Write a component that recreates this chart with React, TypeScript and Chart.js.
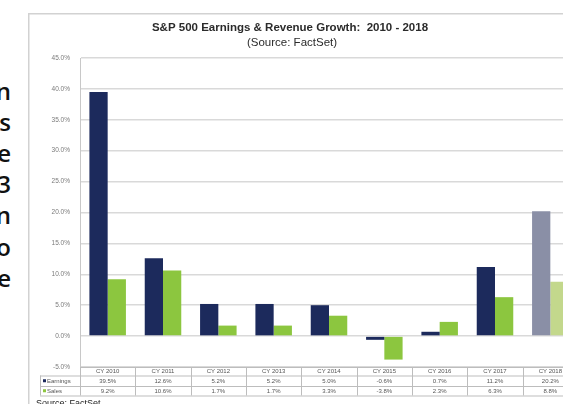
import React, { useEffect, useRef } from "react";
import { Chart, registerables } from "chart.js";

Chart.register(...registerables);

// ---- data ----
const categories = ["CY 2010", "CY 2011", "CY 2012", "CY 2013", "CY 2014", "CY 2015", "CY 2016", "CY 2017", "CY 2018"];
const earnings = [39.5, 12.6, 5.2, 5.2, 5.0, -0.6, 0.7, 11.2, 20.2];
const sales = [9.2, 10.6, 1.7, 1.7, 3.3, -3.8, 2.3, 6.3, 8.8];
const estimated = [false, false, false, false, false, false, false, false, true];
const seriesNames = ["Earnings", "Sales"];
const yMin = -5;
const yMax = 45;
const yStep = 5;
const titleText = "S&P 500 Earnings & Revenue Growth:  2010 - 2018";
const subtitleText = "(Source: FactSet)";
const sourceNote = "Source: FactSet";
const sideLetters = ["n", "s", "e", "3", "n", "o", "e"];

// ---- styles ----
const FONT = "'Liberation Sans', Arial, sans-serif";
const NAVY = "#1c2a5c";
const GREEN = "#8cc63f";
const NAVY_EST = "#8a8fa6";
const GREEN_EST = "#c3d88c";
const seriesColors = [NAVY, GREEN];

const fmt = (v: number) => v.toFixed(1) + "%";

const decorPlugin = {
  id: "decor",
  afterDraw(chart: any) {
    const ctx: CanvasRenderingContext2D = chart.ctx;
    const area = chart.chartArea;
    const W = chart.width;
    ctx.save();

    // frame (top & left)
    ctx.strokeStyle = "#d2d2d2";
    ctx.lineWidth = 1.5;
    ctx.beginPath();
    ctx.moveTo(0.75, chart.height);
    ctx.lineTo(0.75, 0.75);
    ctx.lineTo(W, 0.75);
    ctx.stroke();

    // title
    ctx.fillStyle = "#2b2b2b";
    ctx.textAlign = "center";
    ctx.textBaseline = "middle";
    ctx.font = `bold 11.5px ${FONT}`;
    ctx.fillText(titleText, 262, 15);
    ctx.font = `11.5px ${FONT}`;
    ctx.fillText(subtitleText, 264, 30);

    // data table
    const n = categories.length;
    const colW = (area.right - area.left) / n;
    const top = area.bottom;
    const r1 = top + 8.5;
    const r2 = r1 + 10.5;
    const r3 = r2 + 9.5;
    const labelLeft = 12;
    ctx.strokeStyle = "#bdbdbd";
    ctx.lineWidth = 1;
    ctx.beginPath();
    ctx.moveTo(area.left, top + 0.5);
    ctx.lineTo(W, top + 0.5);
    for (const y of [r1, r2, r3]) {
      ctx.moveTo(labelLeft, y + 0.5);
      ctx.lineTo(W, y + 0.5);
    }
    ctx.moveTo(labelLeft + 0.5, r1);
    ctx.lineTo(labelLeft + 0.5, r3);
    for (let i = 0; i <= n; i++) {
      const x = Math.round(area.left + i * colW) + 0.5;
      ctx.moveTo(x, top);
      ctx.lineTo(x, r3);
    }
    ctx.stroke();

    ctx.font = `6px ${FONT}`;
    ctx.fillStyle = "#555";
    ctx.textAlign = "center";
    for (let i = 0; i < n; i++) {
      const cx = chart.scales.x.getPixelForValue(i);
      ctx.fillText(categories[i], cx, (top + r1) / 2 + 0.5);
      ctx.fillText(fmt(earnings[i]), cx, (r1 + r2) / 2 + 0.5);
      ctx.fillText(fmt(sales[i]), cx, (r2 + r3) / 2 + 0.5);
    }
    // row labels with legend keys
    ctx.textAlign = "left";
    const rows = [(r1 + r2) / 2, (r2 + r3) / 2];
    rows.forEach((y, k) => {
      ctx.fillStyle = seriesColors[k];
      ctx.fillRect(labelLeft + 3, y - 1.5, 3, 3);
      ctx.fillStyle = "#555";
      ctx.fillText(seriesNames[k], labelLeft + 7, y + 0.5);
    });

    // source note
    ctx.font = `9px ${FONT}`;
    ctx.fillStyle = "#222";
    ctx.textBaseline = "top";
    ctx.fillText(sourceNote, 8, 386);

    ctx.restore();
  },
};

function ChartCanvas() {
  const ref = useRef<HTMLCanvasElement | null>(null);
  useEffect(() => {
    if (!ref.current) return;
    const chart = new Chart(ref.current, {
      type: "bar",
      data: {
        labels: categories,
        datasets: [
          {
            label: seriesNames[0],
            data: earnings,
            backgroundColor: estimated.map((e) => (e ? NAVY_EST : NAVY)),
            borderWidth: 0,
          },
          {
            label: seriesNames[1],
            data: sales,
            backgroundColor: estimated.map((e) => (e ? GREEN_EST : GREEN)),
            borderWidth: 0,
          },
        ],
      },
      options: {
        responsive: false,
        animation: false,
        devicePixelRatio: 1,
        layout: { padding: { top: 45, bottom: 37, left: 0, right: 6 } },
        plugins: {
          legend: { display: false },
          tooltip: { enabled: false },
          title: { display: false },
        },
        datasets: { bar: { categoryPercentage: 0.66, barPercentage: 1.0 } },
        scales: {
          x: { display: false, offset: true },
          y: {
            min: yMin,
            max: yMax,
            ticks: {
              stepSize: yStep,
              callback: (v: any) => fmt(Number(v)),
              font: { size: 6.5, family: FONT },
              color: "#7a7a7a",
              padding: 10,
            },
            grid: { color: "#d9d9d9", lineWidth: 1.5, drawTicks: false },
            border: { display: true, color: "#c8c8c8", width: 1 },
            afterFit: (s: any) => {
              s.width = 52;
            },
          },
        },
      },
      plugins: [decorPlugin],
    } as any);
    return () => chart.destroy();
  }, []);
  return (
    <canvas
      ref={ref}
      width={556}
      height={391}
      style={{ position: "absolute", left: 28, top: 13, width: 556, height: 391 }}
    />
  );
}

export default function App() {
  useEffect(() => {
    document.body.style.margin = "0";
    document.body.style.overflow = "hidden";
  }, []);
  return (
    <div style={{ position: "relative", width: 563, height: 404, overflow: "hidden", background: "#fff" }}>
      <div
        style={{
          position: "absolute",
          left: -30,
          top: 74.5,
          width: 41,
          textAlign: "right",
          fontFamily: "'Open Sans', sans-serif",
          fontWeight: 600,
          fontSize: 24,
          lineHeight: "31.2px",
          color: "#111",
        }}
      >
        {sideLetters.map((c, i) => (
          <div key={i}>{c}</div>
        ))}
      </div>
      <ChartCanvas />
    </div>
  );
}
